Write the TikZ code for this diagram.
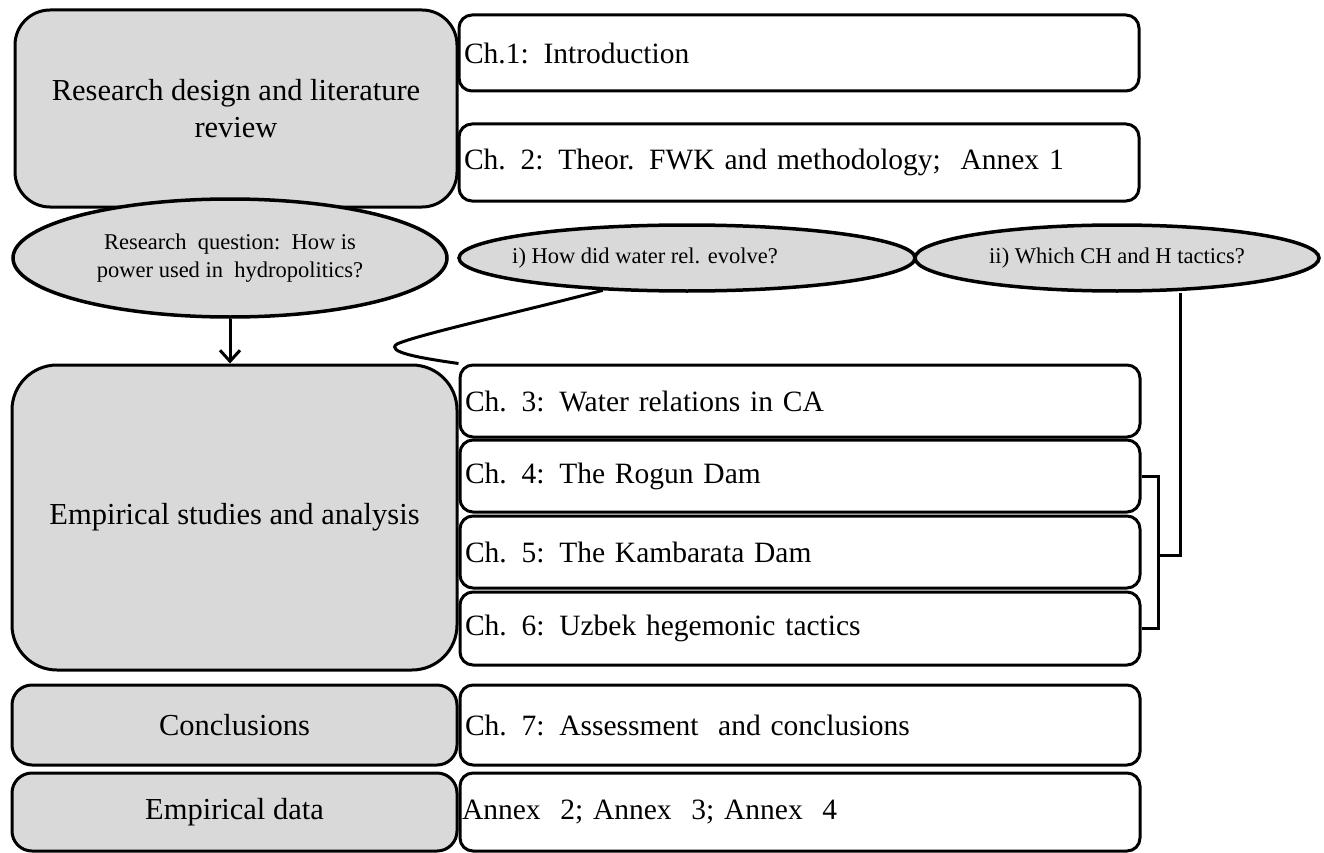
\documentclass[tikz,border=0pt]{standalone}
\usepackage{fontspec}
\setmainfont{Liberation Serif}
\usetikzlibrary{arrows.meta,shapes.geometric}
\definecolor{boxgray}{RGB}{217,217,217}

\begin{document}
\begin{tikzpicture}[x=1pt,y=-1pt,
    part/.style={draw,fill=boxgray,line width=3pt,rounded corners=#1,
      inner sep=0pt,align=center,font=\fontsize{30.5}{37}\selectfont},
    part/.default=20pt,
    chap/.style={draw,fill=white,line width=3pt,rounded corners=13pt,
      inner xsep=5pt,inner ysep=0pt,text width=670pt,align=left,
      minimum width=680pt,font=\fontsize{29.5}{35}\selectfont},
    quest/.style={draw,fill=boxgray,ellipse,line width=3.5pt,inner sep=0pt,
      align=center,font=\fontsize{22.5}{28}\selectfont},
    qtext/.style={inner sep=0pt,font=\fontsize{22.5}{28}\selectfont},
    conn/.style={line width=3pt}]
  \useasboundingbox (0,0) rectangle (1324,853);
  % part boxes on the left
  \node[part=35pt,minimum width=442pt,minimum height=197pt] (rd) at (236,108.5)
    {Research\ design\ and\ literature\\review};
  \node[part=45pt,minimum width=445pt,minimum height=305pt] (es) at (234.5,517.5)
    {Empirical studies and analysis};
  \node[part,minimum width=445pt,minimum height=80pt] (cc) at (234.5,725) {Conclusions};
  \node[part,minimum width=445pt,minimum height=78pt] (ed) at (234.5,812) {Empirical data};
  % chapters
  \node[chap,minimum height=76pt] (ch1) at (799,53) {Ch.1: Introduction};
  \node[chap,minimum height=77pt] (ch2) at (799,162.5) {Ch. 2: Theor. FWK and methodology;\ \ Annex 1};
  \node[chap,minimum height=72pt] (ch3) at (800,401) {Ch. 3: Water relations in CA};
  \node[chap,minimum height=72pt] (ch4) at (800,476) {Ch. 4: The Rogun Dam};
  \node[chap,minimum height=72pt] (ch5) at (800,552) {Ch. 5: The Kambarata Dam};
  \node[chap,minimum height=73pt] (ch6) at (800,628.5) {Ch. 6: Uzbek hegemonic tactics};
  \node[chap,minimum height=80pt] (ch7) at (800,725) {Ch. 7: Assessment\ \ and conclusions};
  \node[chap,minimum height=78pt,inner xsep=2pt,text width=676pt] (ann) at (800,812)
    {Annex\ \ 2; Annex\ \ 3; Annex\ \ 4};
  % questions
  \node[quest,minimum width=434pt,minimum height=118pt] (rq) at (230,258)
    {Research\ \ question:\ \ How is\\power used in\ \ hydropolitics?};
  \node[quest,minimum width=456pt,minimum height=66pt,
    label={[qtext,xshift=-42pt]center:i) How did water rel. evolve?}] (qi) at (687,258) {};
  \node[quest,minimum width=404pt,minimum height=66pt] (qii) at (1117,258)
    {ii) Which CH and H tactics?};
  % connectors
  \draw[conn,-{Straight Barb[length=11pt,width=20pt,line width=3pt]}]
    (rq.south) -- (rq.south |- es.north);
  \draw[conn] (qi.201) .. controls (520,312) and (420,334) .. (397,344)
    .. controls (385,352) and (420,358) .. (ch3.north west);
  \coordinate (brmid) at (1158,555);
  \coordinate (tacjoin) at (1180,555);
  \draw[conn] (ch4.east) -| (brmid) |- (ch6.east);
  \draw[conn] (brmid) -- (tacjoin) -- (tacjoin |- qii.south);
\end{tikzpicture}
\end{document}
